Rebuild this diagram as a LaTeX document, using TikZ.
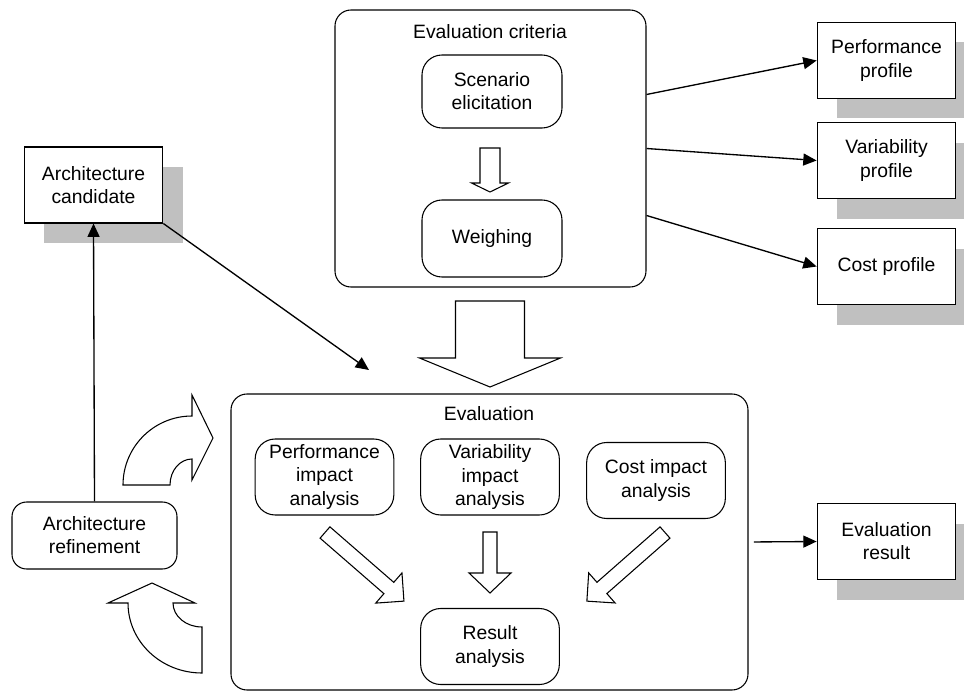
\documentclass[tikz,border=0pt]{standalone}
\usepackage{fontspec}
\setmainfont{Liberation Sans}
\usetikzlibrary{arrows.meta, shadows}
\definecolor{shadowgrey}{RGB}{192,192,192}

% hollow block arrow: x, y, angle, length, half shaft, half head, head length
\newcommand{\hollowarrow}[7]{%
    \begin{scope}[shift={(#1, #2)}, rotate=#3]
        \draw [fill=white, line width=0.8pt] (0, -#5) -- (#4-#7, -#5) -- (#4-#7, -#6) -- (#4, 0)
            -- (#4-#7, #6) -- (#4-#7, #5) -- (0, #5) -- cycle;
    \end{scope}}

\tikzset{
    plainbox/.style = {draw, fill = white, line width = 0.8pt, minimum width = 104pt, minimum height = 57pt,
        align = center, inner sep = 1pt, general shadow = {fill = shadowgrey, shadow xshift = 15pt, shadow yshift = -15pt}},
    roundbox/.style = {draw, fill = white, rounded corners = 15pt, line width = 0.8pt, minimum width = 104pt,
        minimum height = 57pt, align = center, inner sep = 1pt},
    groupbox/.style = {draw, rounded corners = 12pt, line width = 0.8pt, inner sep = 0pt},
    link/.style = {-{Triangle[length = 10pt, width = 9pt]}, line width = 1pt}
}

\begin{document}
\begin{tikzpicture}[x = 0.75pt, y = -0.75pt, font = \fontsize{14.5}{17.3}\selectfont]
        \useasboundingbox (0, 0) rectangle (964, 692);
        % containers
        \node [groupbox, minimum width = 233.25pt, minimum height = 207.75pt] (crit) at (490.5, 148.5) {};
        \node (critlbl) at (490, 32) {Evaluation criteria};
        \node [groupbox, minimum width = 387.75pt, minimum height = 222pt] (eval) at (489.5, 542) {};
        \node (evallbl) at (489, 414) {Evaluation};
        % block arrows
        \hollowarrow{490}{148}{-90}{44}{10}{18.5}{9}
        \hollowarrow{490}{301}{-90}{86}{34.5}{70.5}{29}
        \hollowarrow{490}{532}{-90}{61}{7}{21}{20}
        \hollowarrow{325}{532.5}{-41}{104.6}{7.5}{20}{20}
        \hollowarrow{665}{532.5}{-138.7}{104}{7.5}{20}{20}
        \draw [fill = white, line width = 0.8pt] (123, 485) arc [start angle = 180, end angle = 270, radius = 69]
            -- (192, 395) -- (213, 438) -- (192, 480) -- (192, 459)
            arc [start angle = 270, end angle = 180, x radius = 22, y radius = 26] -- cycle;
        \draw [fill = white, line width = 0.8pt] (202, 673) -- (202, 627)
            arc [start angle = 90, end angle = 180, x radius = 29, y radius = 24]
            -- (195, 603) -- (152, 583) -- (108, 603) -- (128, 603)
            arc [start angle = 180, end angle = 90, x radius = 74, y radius = 70] -- cycle;
        % inner steps
        \node [roundbox, minimum width = 105pt, minimum height = 54.75pt] (scen) at (492, 91.5) {Scenario\\elicitation};
        \node [roundbox, minimum width = 105pt, minimum height = 57.75pt] (weigh) at (492, 238.5) {Weighing};
        \node [roundbox] (perfimp) at (324.5, 477) {Performance\\impact\\analysis};
        \node [roundbox] (varimp) at (490, 477) {Variability\\impact\\analysis};
        \node [roundbox] (costimp) at (656, 480.5) {Cost impact\\analysis};
        \node [roundbox] (result) at (490, 646.5) {Result\\analysis};
        % outer boxes
        \node [plainbox] (cand) at (93.5, 185) {Architecture\\candidate};
        \node [roundbox, rounded corners = 11pt, minimum width = 123.75pt, minimum height = 50.25pt] (refine) at (94.5, 535.5) {Architecture\\refinement};
        \node [plainbox] (perfprof) at (886.5, 60.5) {Performance\\profile};
        \node [plainbox] (varprof) at (886.5, 160.5) {Variability\\profile};
        \node [plainbox] (costprof) at (886.5, 266.5) {Cost profile};
        \node [plainbox] (evalres) at (886.5, 541.5) {Evaluation\\result};
        \coordinate (evalin) at (369, 370);
        % connectors
        \draw [link] ([yshift = 40.5pt]crit.east) -- (perfprof.west);
        \draw [link] (crit.east) -- (varprof.west);
        \draw [link] ([yshift = -50.25pt]crit.east) -- (costprof.west);
        \draw [link] (refine.north) -- (cand.south);
        \draw [link] (cand.south east) -- (evalin);
        \draw [link, shorten < = 4pt] (eval.east) -- (evalres.west);
\end{tikzpicture}
\end{document}
